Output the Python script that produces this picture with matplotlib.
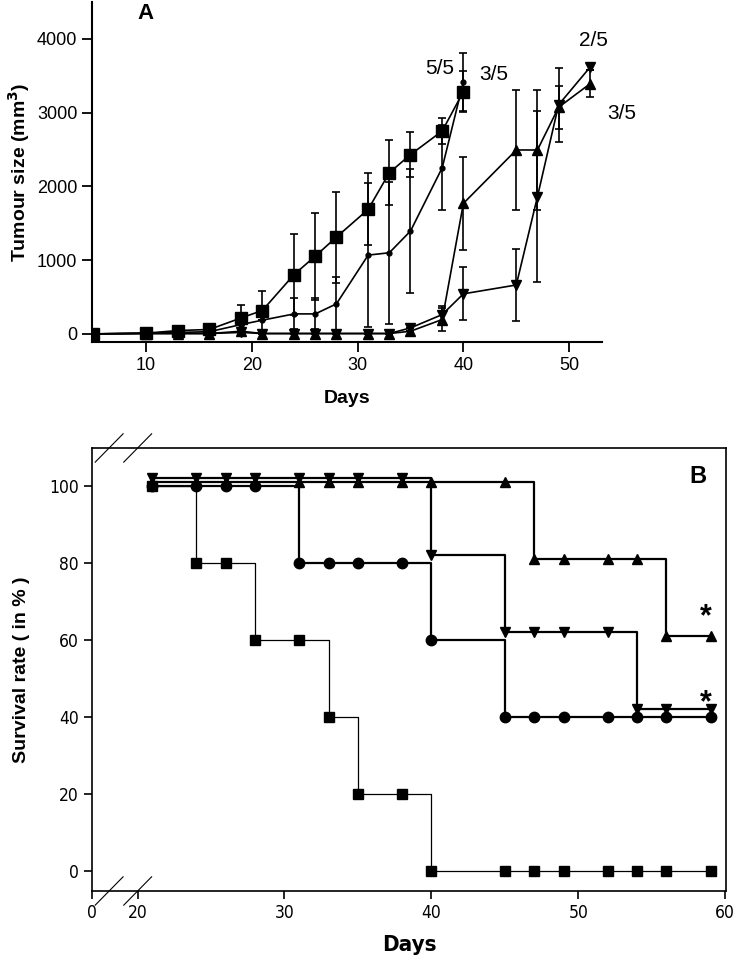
import matplotlib.pyplot as plt
from matplotlib import font_manager

plt.rcParams["font.family"] = ["Liberation Sans", "DejaVu Sans"]

# panel A: tumour size (mm3) per day, mean and error
days_sq = [5, 10, 13, 16, 19, 21, 24, 26, 28, 31, 33, 35, 38, 40]
size_sq = [0, 10, 45, 60, 217, 317, 805, 1054, 1312, 1688, 2185, 2430, 2751, 3285]
err_sq = [0, 0, 0, 0, 177, 271, 552, 589, 616, 488, 439, 303, 172, 283]

days_ci = [5, 10, 13, 16, 19, 21, 24, 26, 28, 31, 33, 35, 38, 40]
size_ci = [0, 10, 20, 30, 127, 186, 271, 271, 407, 1068, 1100, 1394, 2253, 3416]
err_ci = [0, 0, 0, 0, 0, 0, 210, 210, 362, 980, 960, 837, 574, 398]

days_tri = [5, 10, 13, 16, 19, 21, 24, 26, 28, 31, 33, 35, 38, 40, 45, 47, 49, 52]
size_up = [0, 5, 5, 5, 36, 5, 5, 5, 5, 5, 5, 36, 195, 1769, 2493, 2493, 3072, 3394]
err_up = [0, 0, 0, 0, 0, 0, 0, 0, 0, 0, 0, 0, 160, 630, 820, 820, 290, 180]
size_dn = [0, 5, 5, 5, 20, 5, 5, 5, 5, 5, 5, 81, 262, 543, 663, 1860, 3106, 3620]
err_dn = [0, 0, 0, 0, 0, 0, 0, 0, 0, 0, 0, 0, 120, 360, 482, 1160, 505, 40]

# panel B: survival (%), offsets as drawn in the figure
surv_days = [21, 24, 26, 28, 31, 33, 35, 38, 40, 45, 47, 49, 52, 54, 56, 59]
surv_sq = [100, 80, 80, 60, 60, 40, 20, 20, 0, 0, 0, 0, 0, 0, 0, 0]
surv_ci = [100, 100, 100, 100, 80, 80, 80, 80, 60, 40, 40, 40, 40, 40, 40, 40]
surv_dn = [102, 102, 102, 102, 102, 102, 102, 102, 82, 62, 62, 62, 62, 42, 42, 42]
surv_up = [101, 101, 101, 101, 101, 101, 101, 101, 101, 101, 81, 81, 81, 81, 61, 61]

# a narrow face for panel B, if one is around
fonts = font_manager.fontManager.ttflist
if any(f.name == "Liberation Sans Narrow" for f in fonts):
    narrow = dict(family=["Liberation Sans Narrow", "DejaVu Sans"])
else:
    narrow = dict(family=["DejaVu Sans"], stretch="condensed")

fig = plt.figure(figsize=(7.38, 9.73), dpi=100)

# ---- panel A
ax = fig.add_axes([0.1247, 0.6485, 0.691, 0.3495])
ekw = dict(color="k", lw=1.2, elinewidth=1.2, capsize=3.2, capthick=1.2)
ax.errorbar(days_sq, size_sq, yerr=err_sq, marker="s", ms=8, **ekw)
ax.errorbar(days_ci, size_ci, yerr=err_ci, marker="o", ms=3.5, **ekw)
ax.errorbar(days_tri, size_up, yerr=err_up, marker="^", ms=6.5, **ekw)
ax.errorbar(days_tri, size_dn, yerr=err_dn, marker="v", ms=6.5, **ekw)
ax.set_xlim(4.9, 53.1)
ax.set_ylim(-110, 4500)
ax.set_xticks([10, 20, 30, 40, 50])
ax.set_yticks([0, 1000, 2000, 3000, 4000])
for s in ("top", "right"):
    ax.spines[s].set_visible(False)
ax.spines["left"].set_linewidth(1.5)
ax.spines["bottom"].set_linewidth(1.5)
ax.tick_params(direction="out", length=7, width=1.3, labelsize=13)
ax.set_xlabel("Days", fontsize=14, fontweight="bold", labelpad=12)
ax.set_ylabel(r"Tumour size (mm$^\mathbf{3}$)", fontsize=14, fontweight="bold")
ax.text(0.105, 0.95, "A", transform=ax.transAxes, fontsize=16,
        fontweight="bold", ha="center", va="baseline")
ax.text(39.1, 3525, "5/5", fontsize=15, ha="right", va="baseline")
ax.text(41.5, 3444, "3/5", fontsize=15, ha="left", va="baseline")
ax.text(52.3, 3905, "2/5", fontsize=15, ha="center", va="baseline")
ax.text(53.6, 2915, "3/5", fontsize=15, ha="left", va="baseline", clip_on=False)

# ---- panel B
bx = fig.add_axes([0.1247, 0.0843, 0.8590, 0.4553])
bx.plot(surv_days, surv_sq, drawstyle="steps-post", color="k", lw=0.9)
bx.plot(surv_days, surv_sq, ls="none", marker="s", ms=6.5, color="k")
bx.plot(surv_days, surv_ci, drawstyle="steps-post", color="k", lw=1.6)
bx.plot(surv_days, surv_ci, ls="none", marker="o", ms=7.5, color="k")
bx.plot(surv_days, surv_dn, drawstyle="steps-post", color="k", lw=1.6)
bx.plot(surv_days, surv_dn, ls="none", marker="v", ms=7.5, color="k")
bx.plot(surv_days, surv_up, drawstyle="steps-post", color="k", lw=1.6)
bx.plot(surv_days, surv_up, ls="none", marker="^", ms=7.5, color="k")
bx.set_xlim(16.9, 60.05)
bx.set_ylim(-5.2, 109.8)
bx.set_xticks([16.9, 20, 30, 40, 50, 60], ["0", "20", "30", "40", "50", "60"])
bx.set_yticks([0, 20, 40, 60, 80, 100])
for s in bx.spines.values():
    s.set_linewidth(1.2)
bx.tick_params(direction="out", length=6, width=1.2, labelsize=12.5)
for lab in bx.get_xticklabels() + bx.get_yticklabels():
    lab.update(narrow)
bx.set_xlabel("Days", fontsize=16, fontweight="bold", labelpad=9, **narrow)
bx.set_ylabel("Survival rate ( in % )", fontsize=14, fontweight="bold", labelpad=14)
bx.text(0.955, 0.935, "B", transform=bx.transAxes, fontsize=17,
        fontweight="bold", ha="center", va="center")
bx.text(58.7, 65.8, "*", fontsize=22, fontweight="bold", ha="center", va="center")
bx.text(58.7, 43.6, "*", fontsize=22, fontweight="bold", ha="center", va="center")

# axis break marks
for y0 in (0.0, 1.0):
    for x0 in (0.027, 0.072):
        bx.plot([x0 - 0.022, x0 + 0.022], [y0 - 0.032, y0 + 0.032],
                transform=bx.transAxes, color="k", lw=0.8, clip_on=False)

fig.savefig("out.png", dpi=100)
